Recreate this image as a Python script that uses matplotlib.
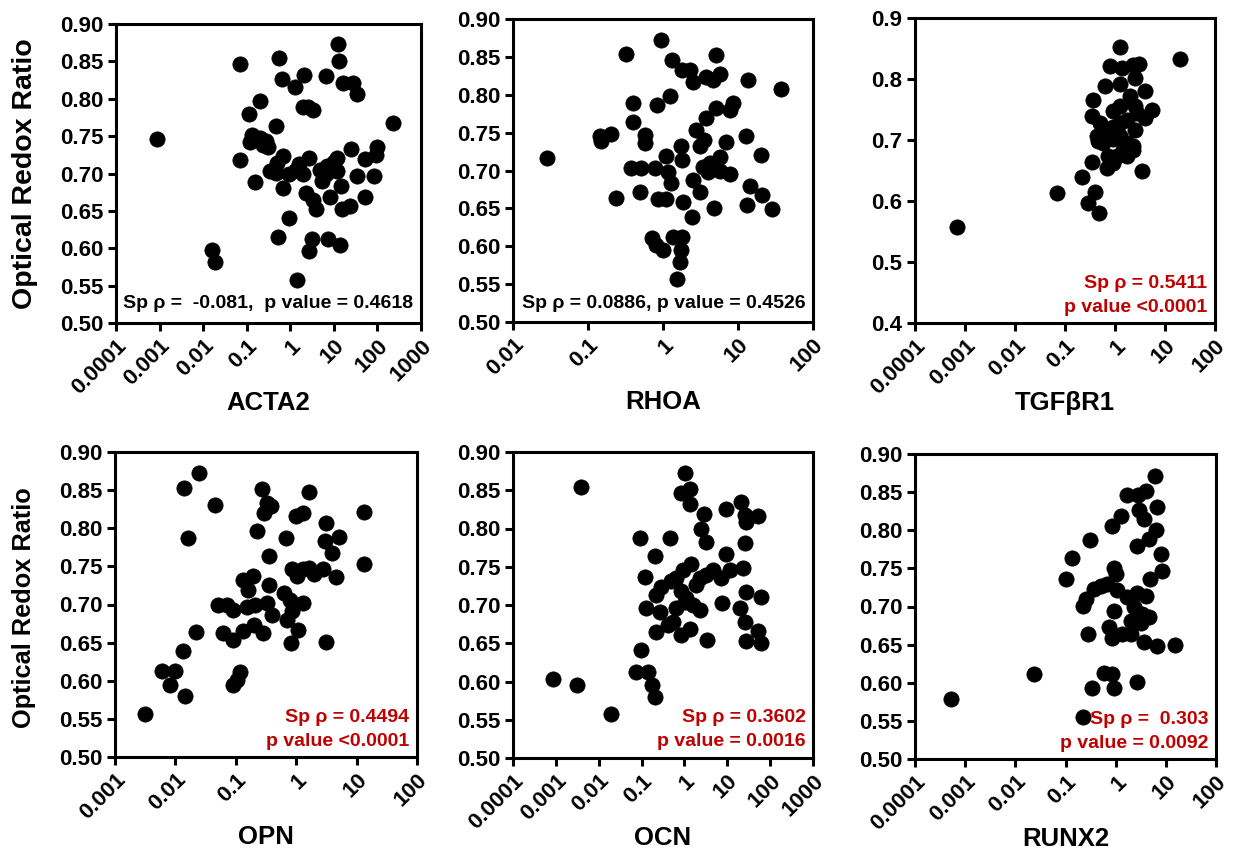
import matplotlib
matplotlib.use("Agg")
import matplotlib.pyplot as plt
from matplotlib.ticker import FixedLocator, FixedFormatter, NullLocator
import numpy as np

plt.rcParams['font.family'] = ['Liberation Sans', 'DejaVu Sans']
plt.rcParams['font.weight'] = 'bold'

# ---------------- data ----------------
acta2_x = [0.00089, 0.069, 0.016, 0.019, 0.54, 0.64, 1.29, 2.07, 6.6, 12.3, 12.8, 16.2, 27.5, 33.9,
           0.20, 0.11, 0.48, 1.93, 2.57, 3.39, 224, 0.132, 0.120, 0.204, 0.275, 0.316, 0.069, 0.151,
           0.676, 0.49, 0.347, 0.479, 0.676, 0.912, 1.62, 2.75, 1.35, 2.29, 3.24, 3.98, 7.08, 6.76,
           12.0, 11.5, 14.8, 8.13, 25.1, 33.1, 51.3, 97.7, 93.3, 81.3, 51.3, 23.4, 15.5, 0.912, 0.513,
           3.09, 2.75, 7.41, 14.1, 1.41, 4.79, 5.4, 2.0, 10.0, 0.24]
acta2_y = [0.746, 0.847, 0.598, 0.581, 0.854, 0.826, 0.816, 0.832, 0.831, 0.873, 0.851, 0.821, 0.821, 0.806,
           0.797, 0.780, 0.764, 0.789, 0.789, 0.785, 0.767, 0.752, 0.742, 0.747, 0.744, 0.736, 0.718, 0.688,
           0.723, 0.714, 0.703, 0.701, 0.681, 0.699, 0.713, 0.721, 0.705, 0.674, 0.665, 0.652, 0.710, 0.699,
           0.721, 0.703, 0.683, 0.668, 0.733, 0.696, 0.719, 0.735, 0.725, 0.697, 0.668, 0.656, 0.652, 0.641, 0.615,
           0.613, 0.596, 0.613, 0.604, 0.558, 0.705, 0.690, 0.700, 0.715, 0.738]

rhoa_x = [0.0284, 0.318, 0.94, 1.32, 1.77, 2.31, 2.51, 3.78, 5.14, 5.81, 4.64, 13.6, 37.8, 0.398, 0.832,
          1.23, 0.398, 0.151, 0.204, 0.146, 0.57, 0.581, 1.09, 1.75, 1.81, 2.78, 3.08, 3.78, 5.14, 8.57,
          7.74, 6.98, 5.70, 12.9, 20.5, 0.38, 0.514, 0.774, 1.17, 1.29, 2.51, 3.41, 3.98, 7.74, 5.70, 3.08,
          0.239, 0.499, 0.857, 1.11, 1.85, 2.46, 4.79, 14.6, 13.2, 20.9, 28.7, 0.721, 0.815, 1.0, 1.36,
          1.81, 1.75, 1.67, 1.54, 3.47, 4.17]
rhoa_y = [0.717, 0.854, 0.872, 0.846, 0.833, 0.833, 0.817, 0.824, 0.852, 0.827, 0.819, 0.820, 0.808, 0.789, 0.787,
          0.798, 0.764, 0.739, 0.748, 0.745, 0.747, 0.736, 0.719, 0.732, 0.714, 0.753, 0.732, 0.769, 0.782, 0.789,
          0.780, 0.737, 0.718, 0.745, 0.720, 0.703, 0.703, 0.703, 0.698, 0.683, 0.687, 0.705, 0.698, 0.696, 0.700, 0.672,
          0.664, 0.672, 0.662, 0.663, 0.659, 0.639, 0.651, 0.680, 0.654, 0.667, 0.649, 0.611, 0.601, 0.595, 0.612,
          0.612, 0.595, 0.579, 0.557, 0.740, 0.710]

tgfbr1_x = [0.00068, 0.068, 0.215, 0.398, 0.293, 0.486, 0.352, 0.681, 0.927, 3.41, 2.33, 1.71, 1.26, 0.794,
            1.36, 2.33, 3.07, 2.51, 20.0, 0.631, 1.26, 3.98, 0.357, 2.0, 0.341, 0.927, 5.41, 3.98, 2.71,
            0.50, 0.68, 0.93, 1.26, 1.71, 0.43, 0.46, 0.585, 0.93, 1.26, 1.71, 2.51, 2.33, 1.47, 0.735,
            1.08, 2.51, 1.26]
tgfbr1_y = [0.557, 0.613, 0.640, 0.614, 0.596, 0.581, 0.664, 0.654, 0.662, 0.650, 0.684, 0.673, 0.853, 0.822,
            0.818, 0.823, 0.825, 0.802, 0.833, 0.788, 0.791, 0.781, 0.766, 0.772, 0.739, 0.747, 0.750, 0.736, 0.744,
            0.728, 0.717, 0.722, 0.728, 0.733, 0.706, 0.698, 0.695, 0.701, 0.706, 0.695, 0.717, 0.690, 0.684, 0.673,
            0.673, 0.755, 0.755]

opn_x = [0.025, 0.0139, 0.0454, 0.0164, 0.27, 0.327, 0.38, 0.288, 1.60, 1.0, 1.32, 3.10, 13.1, 3.03, 5.04,
         3.90, 13.1, 0.223, 0.675, 0.348, 0.134, 0.196, 0.162, 0.348, 0.847, 1.32, 1.66, 2.77, 4.60, 1.94,
         1.03, 0.0516, 0.071, 0.089, 0.152, 0.209, 0.327, 0.395, 0.617, 0.796, 1.32, 0.70, 0.847, 1.09,
         0.0625, 0.089, 0.134, 0.201, 0.28, 0.817, 3.10, 0.022, 0.0136, 0.0059, 0.0099, 0.0082, 0.0145,
         0.00314, 0.118, 0.089, 0.104]
opn_y = [0.872, 0.853, 0.831, 0.787, 0.851, 0.833, 0.829, 0.820, 0.847, 0.816, 0.820, 0.807, 0.821, 0.783, 0.789,
         0.768, 0.753, 0.797, 0.787, 0.764, 0.732, 0.737, 0.719, 0.726, 0.746, 0.746, 0.748, 0.746, 0.736, 0.740,
         0.737, 0.700, 0.700, 0.693, 0.697, 0.700, 0.702, 0.686, 0.715, 0.706, 0.702, 0.680, 0.691, 0.667,
         0.662, 0.654, 0.665, 0.673, 0.662, 0.650, 0.651, 0.664, 0.639, 0.613, 0.613, 0.594, 0.580,
         0.557, 0.612, 0.594, 0.601]

ocn_x = [0.00379, 0.000857, 0.00317, 0.0197, 1.01, 0.845, 1.32, 1.32, 2.81, 2.47, 3.24, 9.48, 21.2, 25.4,
         27.7, 51.9, 25.4, 9.48, 0.0902, 0.452, 0.202, 0.118, 1.45, 0.925, 0.646, 0.494, 2.26, 3.24, 4.63,
         7.24, 11.3, 23.2, 0.288, 0.221, 0.129, 0.264, 0.845, 1.11, 0.646, 1.01, 1.58, 2.26, 0.541, 0.413,
         0.221, 0.845, 1.32, 3.36, 7.64, 26.7, 62.1, 19.4, 25.4, 51.9, 26.7, 62.1, 0.0986, 0.0759, 0.139,
         0.178, 0.202, 1.89]
ocn_y = [0.854, 0.603, 0.595, 0.557, 0.872, 0.847, 0.851, 0.832, 0.819, 0.799, 0.783, 0.825, 0.834, 0.818,
         0.809, 0.816, 0.781, 0.767, 0.788, 0.788, 0.764, 0.737, 0.753, 0.746, 0.735, 0.731, 0.735, 0.739, 0.746,
         0.735, 0.746, 0.748, 0.724, 0.713, 0.696, 0.691, 0.718, 0.709, 0.696, 0.704, 0.700, 0.693, 0.678, 0.674,
         0.665, 0.661, 0.669, 0.654, 0.702, 0.717, 0.710, 0.696, 0.678, 0.666, 0.653, 0.650, 0.641, 0.613, 0.612,
         0.595, 0.580, 0.726]

runx2_x = [0.000525, 0.0233, 0.225, 0.341, 0.585, 0.857, 0.927, 2.63, 6.03, 3.98, 2.80, 1.71, 1.26, 0.857,
           2.93, 3.69, 6.81, 6.31, 4.64, 2.71, 0.302, 0.136, 0.10, 7.94, 8.57, 4.86, 0.927, 1.0, 0.369,
           0.501, 0.681, 0.251, 0.225, 1.08, 1.71, 2.71, 3.98, 0.927, 2.33, 3.41, 4.64, 2.0, 3.16, 0.735,
           0.857, 1.36, 2.0, 3.69, 6.81, 15.1, 0.28]
runx2_y = [0.579, 0.611, 0.555, 0.593, 0.613, 0.612, 0.593, 0.601, 0.871, 0.852, 0.846, 0.846, 0.819, 0.805,
           0.826, 0.815, 0.830, 0.800, 0.789, 0.780, 0.787, 0.764, 0.736, 0.769, 0.747, 0.736, 0.751, 0.743, 0.723,
           0.727, 0.729, 0.710, 0.701, 0.721, 0.712, 0.718, 0.714, 0.694, 0.699, 0.690, 0.686, 0.681, 0.679, 0.673,
           0.659, 0.664, 0.664, 0.653, 0.648, 0.650, 0.664]

x_labels = ['ACTA2', 'RHOA', 'TGF\u03b2R1', 'OPN', 'OCN', 'RUNX2']
y_title = 'Optical Redox Ratio'
x_tick_vals_7 = [1e-4, 1e-3, 1e-2, 1e-1, 1, 10, 100, 1000]
x_tick_lbl_7 = ['0.0001', '0.001', '0.01', '0.1', '1', '10', '100', '1000']
x_tick_vals_rhoa = [1e-2, 1e-1, 1, 10, 100]
x_tick_lbl_rhoa = ['0.01', '0.1', '1', '10', '100']
x_tick_vals_6 = [1e-4, 1e-3, 1e-2, 1e-1, 1, 10, 100]
x_tick_lbl_6 = ['0.0001', '0.001', '0.01', '0.1', '1', '10', '100']
x_tick_vals_opn = [1e-3, 1e-2, 1e-1, 1, 10, 100]
x_tick_lbl_opn = ['0.001', '0.01', '0.1', '1', '10', '100']
y_ticks_a = [0.50, 0.55, 0.60, 0.65, 0.70, 0.75, 0.80, 0.85, 0.90]
y_ticks_b = [0.4, 0.5, 0.6, 0.7, 0.8, 0.9]
stat_lines = [
    ['Sp \u03c1 =  -0.081,  p value = 0.4618'],
    ['Sp \u03c1 = 0.0886, p value = 0.4526'],
    ['Sp \u03c1 = 0.5411', 'p value <0.0001'],
    ['Sp \u03c1 = 0.4494', 'p value <0.0001'],
    ['Sp \u03c1 = 0.3602', 'p value = 0.0016'],
    ['Sp \u03c1 =  0.303', 'p value = 0.0092'],
]
stat_colors = ['black', 'black', '#C00000', '#C00000', '#C00000', '#C00000']

# ---------------- layout ----------------
W, H = 1233, 850
fig = plt.figure(figsize=(W / 100, H / 100), dpi=100)

# (left, right, top, bottom) in pixels
boxes = [(116, 421, 24, 323), (513, 813, 19, 322), (915, 1215, 18, 323),
         (115, 417, 452, 757), (513, 813, 452, 758), (915, 1216, 454, 759)]

panels = [
    (acta2_x, acta2_y, x_tick_vals_7, x_tick_lbl_7, y_ticks_a, '%.2f'),
    (rhoa_x, rhoa_y, x_tick_vals_rhoa, x_tick_lbl_rhoa, y_ticks_a, '%.2f'),
    (tgfbr1_x, tgfbr1_y, x_tick_vals_6, x_tick_lbl_6, y_ticks_b, '%.1f'),
    (opn_x, opn_y, x_tick_vals_opn, x_tick_lbl_opn, y_ticks_a, '%.2f'),
    (ocn_x, ocn_y, x_tick_vals_7, x_tick_lbl_7, y_ticks_a, '%.2f'),
    (runx2_x, runx2_y, x_tick_vals_6, x_tick_lbl_6, y_ticks_a, '%.2f'),
]

for i, ((l, r, t, b), (xs, ys, xt, xtl, yt, yfmt)) in enumerate(zip(boxes, panels)):
    ax = fig.add_axes([l / W, 1 - b / H, (r - l) / W, (b - t) / H])
    ax.plot(xs, ys, 'o', color='black', ms=11, mec='black', mew=0.5, clip_on=False, zorder=3)
    ax.set_xscale('log')
    ax.set_xlim(xt[0], xt[-1])
    ax.set_ylim(yt[0], yt[-1])
    ax.xaxis.set_major_locator(FixedLocator(xt))
    ax.xaxis.set_major_formatter(FixedFormatter(xtl))
    ax.xaxis.set_minor_locator(NullLocator())
    ax.set_yticks(yt)
    ax.set_yticklabels([yfmt % v for v in yt])
    for sp in ax.spines.values():
        sp.set_linewidth(2.2)
    ax.tick_params(axis='both', direction='out', length=6, width=2.2, labelsize=16, pad=3)
    for lab in ax.get_xticklabels():
        lab.set_rotation(45)
        lab.set_ha('right')
        lab.set_va('top')
        lab.set_rotation_mode('anchor')
        lab.set_fontweight('bold')
    for lab in ax.get_yticklabels():
        lab.set_fontweight('bold')
    ax.set_xlabel(x_labels[i], fontsize=18.5, fontweight='bold')
    ax.xaxis.set_label_coords(0.5, -(80) / (b - t))
    ax.xaxis.label.set_va('center')
    if i in (0, 3):
        ax.set_ylabel(y_title, fontsize=20.5 if i == 0 else 18.3, fontweight='bold')
        ax.yaxis.set_label_coords(-(91) / (r - l), 0.5 if i == 0 else 0.49)
        ax.yaxis.label.set_va('center')
    # stats text
    lines = stat_lines[i]
    col = stat_colors[i]
    if len(lines) == 1:
        ax.text(0.975, 19 / (b - t), lines[0], transform=ax.transAxes, ha='right', va='center',
                fontsize=14, fontweight='bold', color=col)
    else:
        ax.text(0.975, 40 / (b - t), lines[0], transform=ax.transAxes, ha='right', va='center',
                fontsize=14, fontweight='bold', color=col)
        ax.text(0.975, 16 / (b - t), lines[1], transform=ax.transAxes, ha='right', va='center',
                fontsize=14, fontweight='bold', color=col)

fig.savefig('out.png', dpi=100)
